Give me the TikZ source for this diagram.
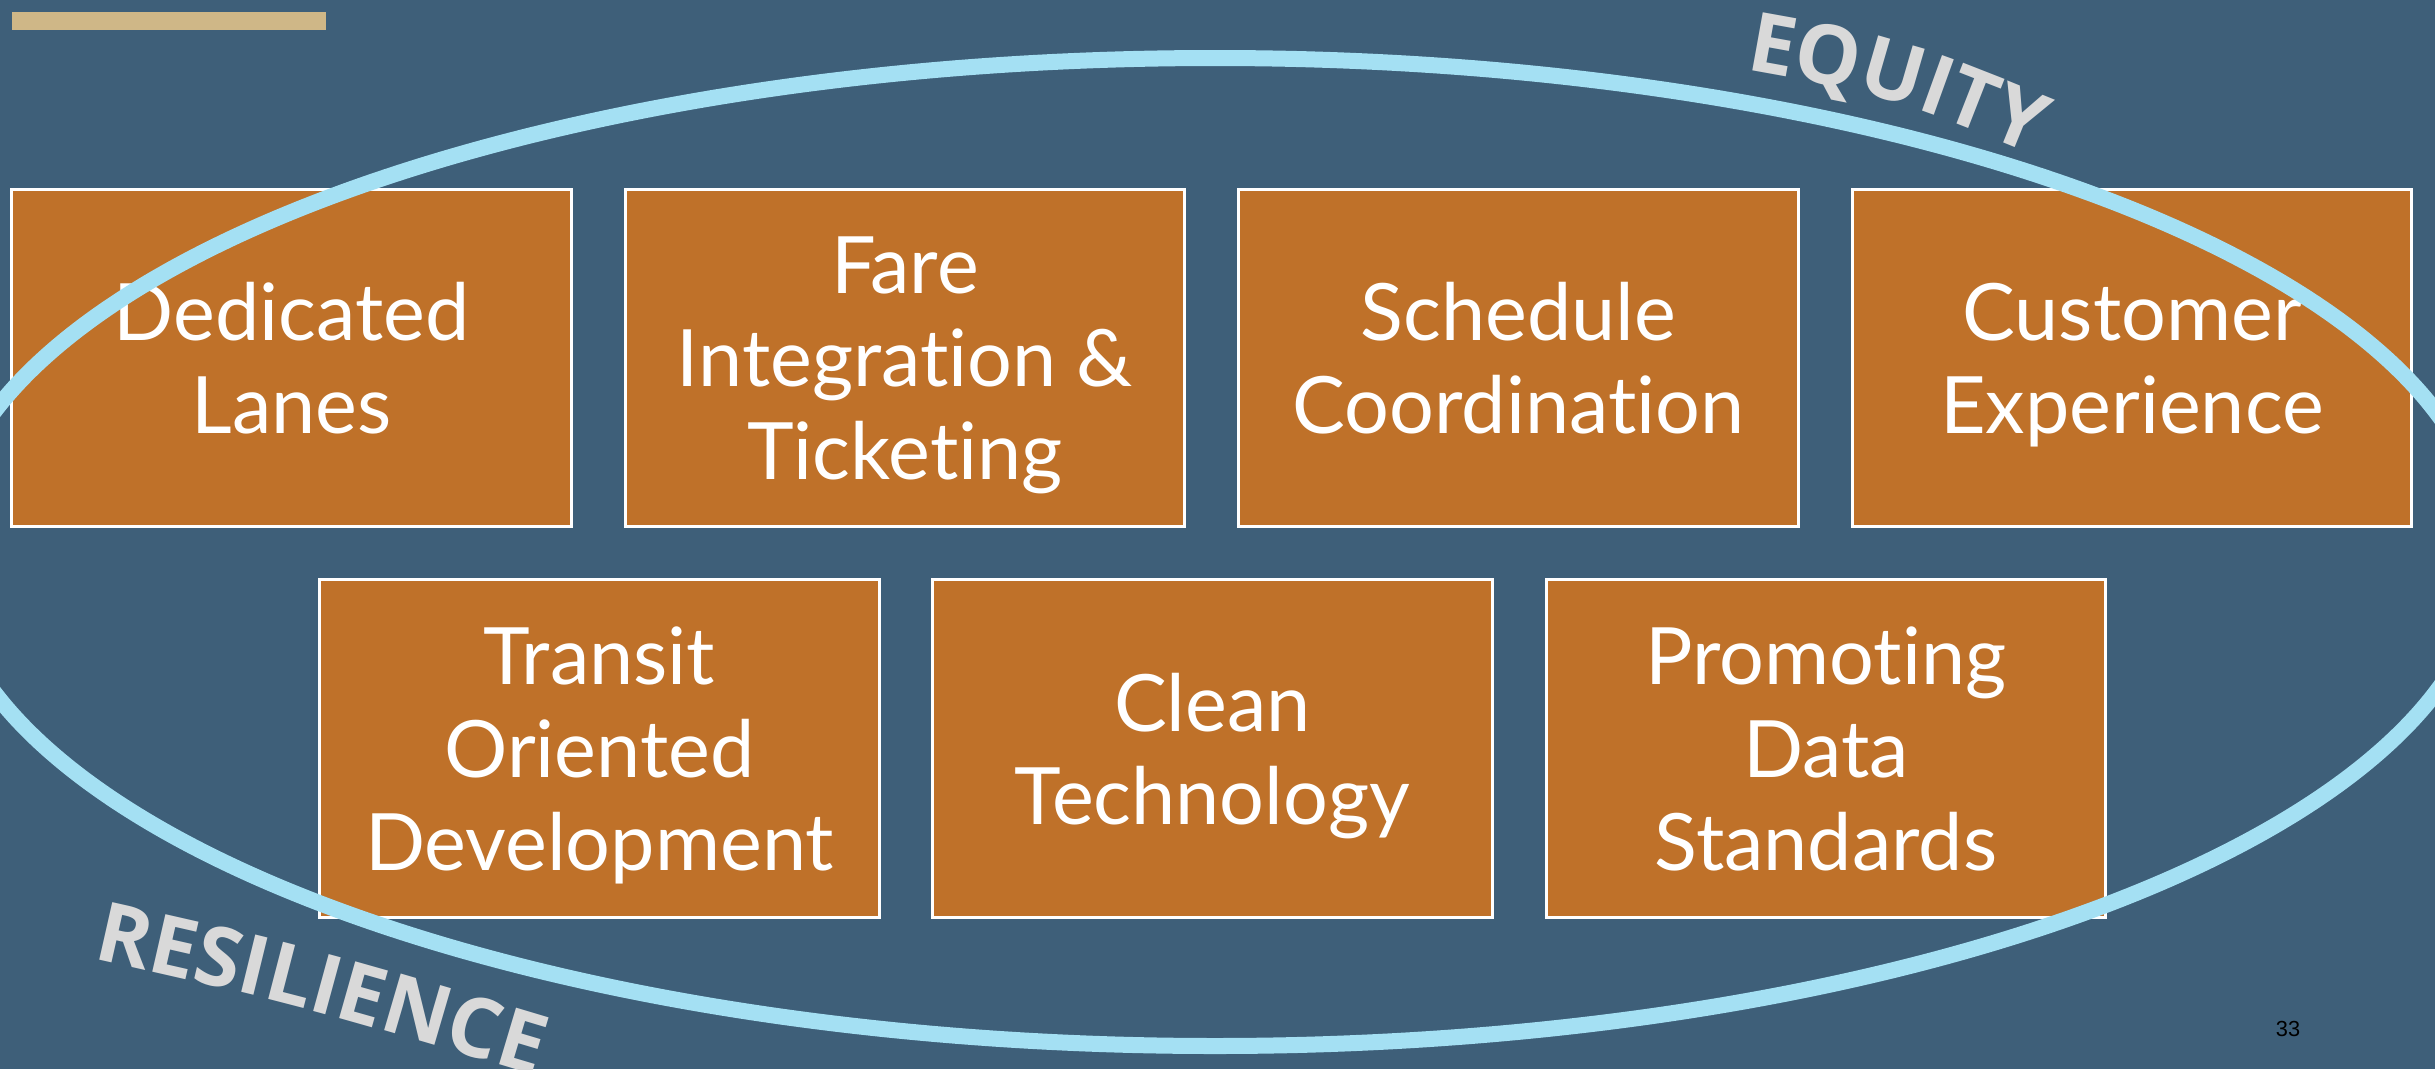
\documentclass[tikz,border=0pt]{standalone}
\usepackage{fontspec}
\setmainfont{Lato}[Ligatures={NoCommon}]
\newfontfamily\wordfont{Open Sans}
\newfontfamily\numfont{Liberation Sans}
\usetikzlibrary{decorations.text}
\definecolor{slidebg}{RGB}{62,95,121}
\definecolor{boxorange}{RGB}{191,113,41}
\definecolor{ringblue}{RGB}{164,224,243}
\definecolor{wordgray}{RGB}{217,217,217}
\definecolor{bartan}{RGB}{207,183,135}
\tikzset{
  topic/.style={draw=white, line width=0.03cm, fill=boxorange, text=white,
    minimum width=5.59cm, minimum height=3.37cm, inner sep=0pt, text depth=0pt,
    align=center, font=\fontsize{22.5}{26.5}\selectfont},
  ring/.style={draw=ringblue, line width=0.16cm}
}
\begin{document}
\begin{tikzpicture}[x=0.01cm, y=-0.01cm]
  \useasboundingbox (0,0) rectangle (2435,1069);
  \clip (0,0) rectangle (2435,1069);
  \fill[slidebg] (0,0) rectangle (2435,1069);
  \fill[bartan] (12,12) rectangle (326,30);
  % first row
  \node[topic] (lanes) at (291.5,358) {Dedicated\\Lanes};
  \node[topic] (fare) at (905,358) {Fare\\Integration \&\\Ticketing};
  \node[topic] (schedule) at (1518.5,358) {Schedule\\Coordination};
  \node[topic] (customer) at (2132,358) {Customer\\Experience};
  % second row
  \node[topic] (tod) at (599.5,748.5) {Transit\\Oriented\\Development};
  \node[topic] (clean) at (1212.5,748.5) {Clean\\Technology};
  \node[topic] (data) at (1826,748.5) {Promoting\\Data\\Standards};
  % ring and its two words
  \draw[ring] (1215,552) ellipse [x radius=1273, y radius=494];
  \path[decorate, decoration={text along path,
      text={|\color{wordgray}\wordfont\bfseries\fontsize{23.5}{23.5}\selectfont|EQUITY}}]
    (1745,70) .. controls (1890,96) .. (2070,170);
  \path[decorate, decoration={text along path,
      text={|\color{wordgray}\wordfont\bfseries\fontsize{23.5}{23.5}\selectfont|RESILIENCE}}]
    (92,958) .. controls (300,1005) .. (600,1095);
  \node[font=\numfont\fontsize{6.2}{7}\selectfont] (pagenum) at (2288,1029) {33};
\end{tikzpicture}
\end{document}
